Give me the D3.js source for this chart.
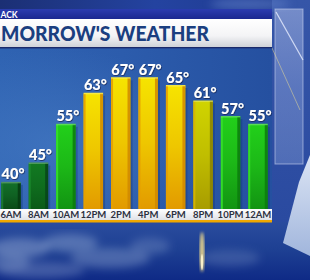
<!DOCTYPE html>
<html><head><meta charset="utf-8">
<script src="https://cdn.jsdelivr.net/npm/d3@7"></script>
<style>html,body{margin:0;padding:0;background:#1a3478;}svg{display:block;}</style>
</head><body>
<script>
const categories = ["6AM","8AM","10AM","12PM","2PM","4PM","6PM","8PM","10PM","12AM"];
const temps = [40,45,55,63,67,67,65,61,57,55];
const titleText = "MORROW'S WEATHER";
const stripText = "ACK";

const W = 310, H = 280;
const svg = d3.select("body").append("svg").attr("width", W).attr("height", H);
const defs = svg.append("defs");

function lg(id, stops, x2, y2) {
  const g = defs.append("linearGradient").attr("id", id)
    .attr("x1", 0).attr("y1", 0).attr("x2", x2 ?? 0).attr("y2", y2 ?? 1);
  stops.forEach(s => g.append("stop").attr("offset", s[0]).attr("stop-color", s[1]).attr("stop-opacity", s[2] ?? 1));
}
function rg(id, cx, cy, r, stops) {
  const g = defs.append("radialGradient").attr("id", id).attr("cx", cx).attr("cy", cy).attr("r", r);
  stops.forEach(s => g.append("stop").attr("offset", s[0]).attr("stop-color", s[1]).attr("stop-opacity", s[2] ?? 1));
}
defs.append("filter").attr("id","blur4").append("feGaussianBlur").attr("stdDeviation",4);
defs.append("filter").attr("id","blur2").append("feGaussianBlur").attr("stdDeviation",1.5);
const sh = defs.append("filter").attr("id","tshadow").attr("x","-20%").attr("y","-20%").attr("width","140%").attr("height","140%");
sh.append("feDropShadow").attr("dx",0.6).attr("dy",0.8).attr("stdDeviation",0.6).attr("flood-color","#0a1840").attr("flood-opacity",0.8);

// backgrounds
lg("bgTop", [[0,"#1b2f74"],[0.5,"#2443a0"],[1,"#1e3a8c"]], 1, 0);
lg("bgBottom", [[0,"#2a4c9e"],[0.5,"#1d3f92"],[1,"#0f2a86"]], 0, 1);
lg("bgRight", [[0,"#3656a8"],[1,"#2a4aa0"]], 0, 1);
lg("chartBg", [[0,"#2f63b2"],[0.45,"#2c5cac"],[1,"#2550a0"]], 1, 0);
rg("chartGlow", 0.2, 0.6, 0.6, [[0,"#4a80c8",0.55],[1,"#4a80c8",0]]);
lg("strip", [[0,"#2b3cb0"],[1,"#1a2890"]], 0, 1);
lg("titleBg", [[0,"#ffffff"],[0.6,"#f4f4f6"],[1,"#cfd2d8"]], 0, 1);
lg("axisBg", [[0,"#ffffff"],[1,"#dfe2e8"]], 0, 1);
lg("glass", [[0,"#a8b8e4",0.55],[0.5,"#8ea4dc",0.45],[1,"#90a8dc",0.35]], 0, 1);
lg("shard", [[0,"#e4ecf8"],[1,"#a8bce0"]], 0, 1);

// bar gradients
const palettes = {
  dark:   {top:"#13702a", bot:"#0a4a16", edgeL:"#1a7a30", edgeR:"#063a10"},
  dark2:  {top:"#127a22", bot:"#0b5a18", edgeL:"#1c8a2c", edgeR:"#07441a"},
  green:  {top:"#22d01a", bot:"#129412", edgeL:"#36e02a", edgeR:"#0c7a0e"},
  lime:   {top:"#d0d400", bot:"#a89c00", edgeL:"#d8b400", edgeR:"#8a8000"},
  yellow: {top:"#f6e400", bot:"#e29a00", edgeL:"#e6a000", edgeR:"#d08800"}
};
function paletteFor(v) {
  if (v <= 40) return "dark";
  if (v <= 45) return "dark2";
  if (v <= 58) return "green";
  if (v <= 61) return "lime";
  return "yellow";
}
Object.entries(palettes).forEach(([k, p]) => {
  lg("bar_" + k, [[0, p.top], [0.5, d3.interpolateRgb(p.top, p.bot)(0.4)], [1, p.bot]], 0, 1);
});

// scenery
svg.append("rect").attr("x",0).attr("y",0).attr("width",W).attr("height",H).attr("fill","url(#bgTop)");
svg.append("rect").attr("x",272).attr("y",0).attr("width",38).attr("height",222).attr("fill","url(#bgRight)");
svg.append("rect").attr("x",0).attr("y",222).attr("width",W).attr("height",58).attr("fill","url(#bgBottom)");
const cloudG = svg.append("g").attr("filter","url(#blur4)");
[[20,248,30,10,0.5],[70,243,28,9,0.45],[110,258,40,10,0.4],[40,270,45,8,0.35],[150,246,20,8,0.3],[230,258,30,8,0.25],[10,262,20,8,0.4]]
  .forEach(c => cloudG.append("ellipse").attr("cx",c[0]).attr("cy",c[1]).attr("rx",c[2]).attr("ry",c[3]).attr("fill","#94aad4").attr("opacity",c[4]));
svg.append("ellipse").attr("cx",202).attr("cy",252).attr("rx",2.5).attr("ry",20).attr("fill","#ffe58a").attr("opacity",0.85).attr("filter","url(#blur2)");
svg.append("ellipse").attr("cx",202).attr("cy",262).attr("rx",1.2).attr("ry",8).attr("fill","#fff6d0").attr("opacity",0.9);
svg.append("ellipse").attr("cx",250).attr("cy",4).attr("rx",40).attr("ry",6).attr("fill","#6a8ad0").attr("opacity",0.5).attr("filter","url(#blur4)");
svg.append("rect").attr("x",275).attr("y",9).attr("width",28).attr("height",155).attr("fill","url(#glass)").attr("stroke","#c8d4f0").attr("stroke-opacity",0.6);
svg.append("line").attr("x1",276).attr("y1",12).attr("x2",303).attr("y2",60).attr("stroke","#e8eeff").attr("stroke-width",1.2).attr("opacity",0.8);
svg.append("line").attr("x1",272).attr("y1",48).attr("x2",300).attr("y2",110).attr("stroke","#f0e090").attr("stroke-width",0.8).attr("opacity",0.6);
svg.append("polygon").attr("points","310,155 299,182 283,243 310,256").attr("fill","url(#shard)").attr("opacity",0.95);

// panel: strip + title
const panelW = 272;
svg.append("rect").attr("x",0).attr("y",9).attr("width",panelW).attr("height",10).attr("fill","url(#strip)");
svg.append("text").attr("x",0.5).attr("y",17.5).attr("text-anchor","start")
  .attr("font-family","Lato, 'Open Sans', sans-serif").attr("font-size",8.5).attr("font-weight",700)
  .attr("fill","#ffffff").text(stripText);
svg.append("rect").attr("x",0).attr("y",19).attr("width",panelW).attr("height",28).attr("fill","url(#titleBg)");
svg.append("rect").attr("x",0).attr("y",47).attr("width",panelW).attr("height",1.5).attr("fill","#1a2a6a");
svg.append("text").attr("x",1).attr("y",41).attr("text-anchor","start")
  .attr("textLength",208).attr("lengthAdjust","spacingAndGlyphs")
  .attr("font-family","Lato, 'Open Sans', sans-serif").attr("font-size",20).attr("font-weight",900)
  .attr("fill","#1b3f80").text(titleText);

// chart area
const chartTop = 48.5, baseY = 209;
svg.append("rect").attr("x",0).attr("y",chartTop).attr("width",panelW).attr("height",baseY-chartTop).attr("fill","url(#chartBg)");
svg.append("rect").attr("x",0).attr("y",chartTop).attr("width",panelW).attr("height",baseY-chartTop).attr("fill","url(#chartGlow)");

const x = d3.scaleBand().domain(categories).range([-6.7, 275.7]).paddingInner(0.29).paddingOuter(0.29);
const y = d3.scaleLinear().domain([33, 67]).range([baseY, 77.3]);

const bars = svg.append("g");
categories.forEach((c, i) => {
  const v = temps[i];
  const p = palettes[paletteFor(v)];
  const bx = x(c), bw = x.bandwidth(), by = y(v), bh = baseY - y(v);
  const g = bars.append("g");
  g.append("rect").attr("x",bx).attr("y",by).attr("width",bw).attr("height",bh).attr("fill","url(#bar_" + paletteFor(v) + ")");
  g.append("rect").attr("x",bx).attr("y",by+1).attr("width",2).attr("height",bh-1).attr("fill",p.edgeL).attr("opacity",0.9);
  g.append("rect").attr("x",bx+bw-3).attr("y",by+1).attr("width",3).attr("height",bh-1).attr("fill",p.edgeR).attr("opacity",0.85);
  g.append("rect").attr("x",bx).attr("y",by).attr("width",bw).attr("height",1.5).attr("fill","#ffffff").attr("opacity",0.25);
  g.append("rect").attr("x",bx+bw).attr("y",by+3).attr("width",2).attr("height",bh-3).attr("fill","#123070").attr("opacity",0.35);
});

svg.append("g").selectAll("text").data(temps).join("text")
  .attr("x", (d, i) => x(categories[i]) + x.bandwidth()/2 + 2)
  .attr("y", d => y(d) - 2.5)
  .attr("text-anchor","middle")
  .attr("font-family","Lato, 'Open Sans', sans-serif").attr("font-size",14.5).attr("font-weight",900)
  .attr("fill","#ffffff").attr("filter","url(#tshadow)")
  .text(d => d + "°");

// axis band
svg.append("rect").attr("x",0).attr("y",baseY).attr("width",panelW).attr("height",11).attr("fill","url(#axisBg)");
svg.append("rect").attr("x",0).attr("y",baseY+11).attr("width",panelW).attr("height",2.5).attr("fill","#f0a800");
const axis = d3.axisBottom(x).tickSize(0).tickPadding(0);
const ag = svg.append("g").attr("transform", `translate(0,${baseY})`).call(axis);
ag.select(".domain").remove();
ag.selectAll("text").attr("dy", null).attr("y", 9.3)
  .attr("font-family","Lato, 'Open Sans', sans-serif").attr("font-size",9.5).attr("font-weight",700)
  .attr("fill","#2c3040");
</script>
</body></html>
